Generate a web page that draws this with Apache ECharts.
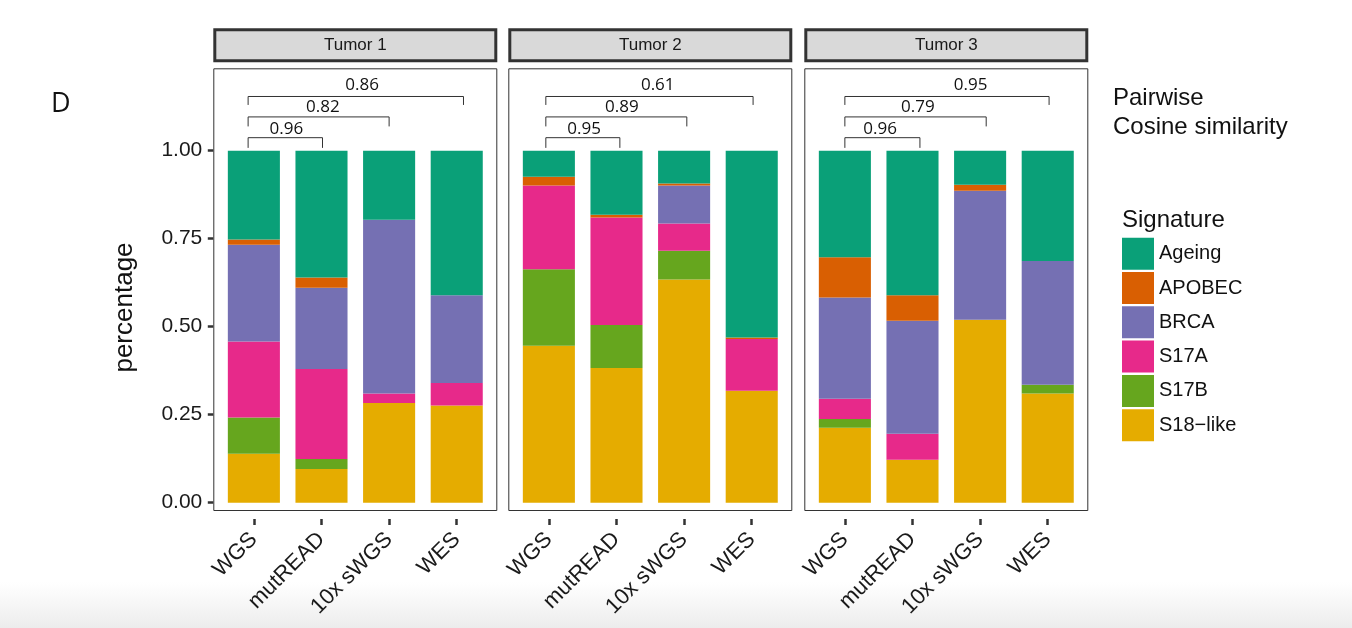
<!DOCTYPE html>
<html><head><meta charset="utf-8">
<script src="https://cdn.jsdelivr.net/npm/echarts@6/dist/echarts.min.js"></script>
<style>html,body{margin:0;padding:0;background:#fff}#c{width:1352px;height:628px}</style>
</head><body><div id="c"></div>
<script>
// ---------------- data ----------------
const tumors = ['Tumor 1', 'Tumor 2', 'Tumor 3'];
const methods = ['WGS', 'mutREAD', '10x sWGS', 'WES'];
const signatures = ['Ageing', 'APOBEC', 'BRCA', 'S17A', 'S17B', 'S18\u2212like'];
// fractions per tumor (rows) and method (columns)
const ageing  = [[0.252, 0.360, 0.196, 0.411], [0.074, 0.182, 0.093, 0.531], [0.303, 0.411, 0.097, 0.313]];
const apobec  = [[0.015, 0.029, 0.000, 0.000], [0.025, 0.008, 0.006, 0.004], [0.114, 0.072, 0.017, 0.000]];
const brca    = [[0.275, 0.231, 0.494, 0.249], [0.000, 0.000, 0.108, 0.000], [0.288, 0.321, 0.366, 0.352]];
const s17a    = [[0.216, 0.256, 0.027, 0.064], [0.238, 0.305, 0.077, 0.147], [0.057, 0.074, 0.000, 0.000]];
const s17b    = [[0.103, 0.028, 0.000, 0.000], [0.217, 0.122, 0.082, 0.000], [0.025, 0.000, 0.000, 0.025]];
const s18like = [[0.139, 0.096, 0.283, 0.276], [0.446, 0.383, 0.634, 0.318], [0.213, 0.122, 0.520, 0.310]];
const yTickLabels = ['0.00', '0.25', '0.50', '0.75', '1.00'];
// pairwise cosine similarity: WGS vs mutREAD, WGS vs 10x sWGS, WGS vs WES
const cosineSim = [[0.96, 0.82, 0.86], [0.95, 0.89, 0.61], [0.96, 0.79, 0.95]];
// bracket annotation placement (category index units / y units)
const bracketStart = [-0.085, -0.045, 0.0];
const bracketEnd = [[1.015, 2.0, 3.10], [1.05, 2.04, 3.02], [1.11, 2.09, 3.02]];
const labelX = [[0.48, 1.02, 1.60], [0.52, 1.08, 1.61], [0.52, 1.08, 1.86]];
const bracketY = [1.037, 1.096, 1.154];
const bracketDrop = [1.008, 1.069, 1.130];
const labelY = [1.062, 1.123, 1.185];

// ---------------- style / layout ----------------
const colors = {
  'Ageing': '#0aa078', 'APOBEC': '#d95f02', 'BRCA': '#7570b3',
  'S17A': '#e7298a', 'S17B': '#66a61e', 'S18\u2212like': '#e5ac00'
};
const stackOrder = [['S18\u2212like', s18like], ['S17B', s17b], ['S17A', s17a], ['BRCA', brca], ['APOBEC', apobec], ['Ageing', ageing]];
const FONT = 'Liberation Sans, Arial, sans-serif';
const panelLeft = [213.3, 508.3, 804.3];
const panelW = 284;
const panelTop = 68.3, panelBottom = 511;
const stripTop = 28.3, stripH = 34;
const dataTop = 150.7, dataH = 352;
const xAxisY = 519;
const unit = panelW / 4.2;

const grids = [], xAxes = [], yAxes = [], series = [], graphics = [];

// bottom fade
graphics.push({type: 'rect', z: -5, shape: {x: 0, y: 582, width: 1352, height: 46},
  style: {fill: new echarts.graphic.LinearGradient(0, 0, 0, 1, [{offset: 0, color: 'rgba(238,238,238,0)'}, {offset: 1, color: '#ececec'}])}});

tumors.forEach((t, p) => {
  const g = grids.length;
  // data grid
  grids.push({left: panelLeft[p] + 0.1 * unit, top: dataTop, width: 4 * unit, height: dataH});
  xAxes.push({type: 'category', gridIndex: g, data: methods, show: false});
  xAxes.push({type: 'value', gridIndex: g, min: -0.5, max: 3.5, show: false});
  yAxes.push({type: 'value', gridIndex: g, min: 0, max: 1, interval: 0.25, show: false, splitLine: {show: false}});
  const xCat = xAxes.length - 2, xVal = xAxes.length - 1, yIdx = yAxes.length - 1;
  stackOrder.forEach(([name, arr]) => {
    series.push({
      name: name, type: 'bar', stack: 'tumor' + p,
      xAxisIndex: xCat, yAxisIndex: yIdx,
      barWidth: '77%', data: arr[p],
      itemStyle: {color: colors[name]},
      emphasis: {disabled: true}, animation: false
    });
  });
  // brackets
  const bdata = cosineSim[p].map((s, k) => [bracketStart[p], bracketEnd[p][k], bracketY[k], bracketDrop[k], labelX[p][k], labelY[k]]);
  series.push({
    type: 'custom', xAxisIndex: xVal, yAxisIndex: yIdx, clip: false, silent: true, animation: false,
    data: bdata,
    encode: {x: [0, 1, 4], y: [2, 3, 5]},
    renderItem: (params, api) => {
      const x1 = api.value(0), x2 = api.value(1), yh = api.value(2), yd = api.value(3);
      const pts = [api.coord([x1, yd]), api.coord([x1, yh]), api.coord([x2, yh]), api.coord([x2, yd])];
      const pl = api.coord([api.value(4), api.value(5)]);
      return {type: 'group', children: [
        {type: 'polyline', shape: {points: pts}, style: {stroke: '#333', lineWidth: 1, fill: null}},
        {type: 'text', x: pl[0], y: pl[1], style: {text: cosineSim[p][params.dataIndex].toFixed(2),
          fontSize: 17, fontFamily: 'Open Sans, sans-serif', fill: '#111', align: 'center', verticalAlign: 'middle'}}
      ]};
    }
  });
  // x-axis grid (ticks + labels below the panel)
  const gx = grids.length;
  grids.push({left: panelLeft[p] + 0.1 * unit, top: xAxisY - 10, width: 4 * unit, height: 10});
  xAxes.push({
    type: 'category', gridIndex: gx, data: methods, position: 'bottom',
    axisLine: {show: false},
    axisTick: {show: true, alignWithLabel: true, length: 6, lineStyle: {color: '#333', width: 2.5}},
    axisLabel: {interval: 0, rotate: 45, margin: 17, fontSize: 22, fontFamily: FONT, color: '#1a1a1a'}
  });
  yAxes.push({type: 'value', gridIndex: gx, show: false, splitLine: {show: false}});

  // panel border
  graphics.push({type: 'rect', z: 20, shape: {x: panelLeft[p] + 0.5, y: panelTop + 0.5, width: panelW - 1, height: panelBottom - panelTop - 1},
    style: {fill: null, stroke: '#333', lineWidth: 1}});
  // strip
  graphics.push({type: 'rect', z: 20, shape: {x: panelLeft[p] + 1.5, y: stripTop + 1.5, width: panelW - 3, height: stripH - 3},
    style: {fill: '#d9d9d9', stroke: '#333', lineWidth: 3}});
  graphics.push({type: 'text', z: 21, x: panelLeft[p] + panelW / 2, y: stripTop + stripH / 2,
    style: {text: t, fontSize: 17, fontFamily: FONT, fill: '#1a1a1a', align: 'center', verticalAlign: 'middle'}});
});

// y-axis grid (ticks + labels left of first panel)
const gy = grids.length;
grids.push({left: panelLeft[0], top: dataTop, width: 10, height: dataH});
xAxes.push({type: 'value', gridIndex: gy, show: false, splitLine: {show: false}});
yAxes.push({
  type: 'value', gridIndex: gy, min: 0, max: 1, interval: 0.25, position: 'left',
  splitLine: {show: false}, axisLine: {show: false},
  axisTick: {show: true, length: 5.5, lineStyle: {color: '#333', width: 2.5}},
  axisLabel: {margin: 11, fontSize: 21, fontFamily: FONT, color: '#1a1a1a',
    formatter: v => yTickLabels[Math.round(v / 0.25)]}
});

graphics.push({type: 'text', z: 21, x: 51, y: 104, style: {text: 'D', fontSize: 27, fontFamily: 'Open Sans, sans-serif', fill: '#111', align: 'left', verticalAlign: 'middle'}});
graphics.push({type: 'text', z: 21, x: 125, y: 307.5, rotation: Math.PI / 2,
  style: {text: 'percentage', fontSize: 26, fontFamily: FONT, fill: '#111', align: 'center', verticalAlign: 'middle'}});
graphics.push({type: 'text', z: 21, x: 1113, y: 98.4, style: {text: 'Pairwise', fontSize: 24, fontFamily: FONT, fill: '#111', align: 'left', verticalAlign: 'middle'}});
graphics.push({type: 'text', z: 21, x: 1113, y: 127.4, style: {text: 'Cosine similarity', fontSize: 24, fontFamily: FONT, fill: '#111', align: 'left', verticalAlign: 'middle'}});
graphics.push({type: 'text', z: 21, x: 1122, y: 220, style: {text: 'Signature', fontSize: 24, fontFamily: FONT, fill: '#111', align: 'left', verticalAlign: 'middle'}});

const chart = echarts.init(document.getElementById('c'), null, {renderer: 'canvas'});
chart.setOption({
  backgroundColor: '#ffffff',
  animation: false,
  grid: grids,
  xAxis: xAxes,
  yAxis: yAxes,
  legend: {
    data: signatures, orient: 'vertical', left: 1122, top: 237.7, padding: 0,
    itemWidth: 32, itemHeight: 32, itemGap: 2.3, icon: 'rect', selectedMode: false,
    textStyle: {fontSize: 20, fontFamily: FONT, color: '#111'}
  },
  graphic: graphics,
  series: series
});
</script>
</body></html>
